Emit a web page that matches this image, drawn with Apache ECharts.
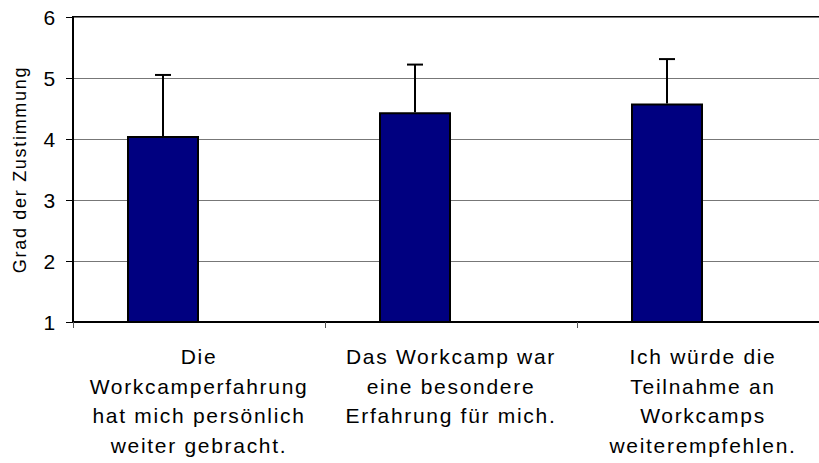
<!DOCTYPE html>
<html>
<head>
<meta charset="utf-8">
<script src="https://cdn.jsdelivr.net/npm/echarts@6/dist/echarts.min.js"></script>
<style>
  html, body { margin: 0; padding: 0; background: #fff; }
  #main { width: 819px; height: 463px; }
  /* Excel renders the text a bit spread out */
  #main svg text { letter-spacing: 1.7px; }
</style>
</head>
<body>
<div id="main"></div>
<script>
// Daten
var categories = [
  'Die\nWorkcamperfahrung\nhat mich persönlich\nweiter gebracht.',
  'Das Workcamp war\neine besondere\nErfahrung für mich.',
  'Ich würde die\nTeilnahme an\nWorkcamps\nweiterempfehlen.'
]
var means = [4.05, 4.44, 4.58]
var sds = [1.00, 0.78, 0.73]
var yMin = 1, yMax = 6, yStep = 1
var yName = 'Grad der Zustimmung'

var barW = 72
var font = "'Liberation Sans', Arial, sans-serif"

var myChart = echarts.init(document.getElementById('main'), null, { renderer: 'svg' })

var option = {
  backgroundColor: '#fff',
  animation: false,
  grid: {
    left: 73,
    top: 17,
    bottom: 141,
    right: -10,
    outerBoundsMode: 'none',
    show: true,
    borderColor: '#000',
    borderWidth: 2
  },
  xAxis: {
    type: 'category',
    data: categories,
    axisLine: { lineStyle: { color: '#000', width: 2 } },
    axisTick: { show: true, length: 6, lineStyle: { color: '#555', width: 1 } },
    axisLabel: {
      interval: 0,
      color: '#000',
      fontFamily: font,
      fontSize: 21,
      lineHeight: 29.5,
      margin: 20
    }
  },
  yAxis: {
    type: 'value',
    min: yMin,
    max: yMax,
    interval: yStep,
    name: yName,
    nameLocation: 'middle',
    nameGap: 44,
    nameTextStyle: { color: '#000', fontFamily: font, fontSize: 18 },
    axisLine: { show: true, lineStyle: { color: '#000', width: 2 } },
    axisTick: { show: true, length: 7, lineStyle: { color: '#000', width: 1 } },
    axisLabel: { color: '#000', fontFamily: font, fontSize: 21, margin: 16 },
    splitLine: { lineStyle: { color: '#777', width: 1 } }
  },
  series: [
    {
      name: 'Mittelwert',
      type: 'bar',
      data: means,
      barWidth: barW,
      barGap: '0%',
      itemStyle: { color: '#000080', borderColor: '#000', borderWidth: 2 }
    },
    {
      // leere zweite Reihe (Platzhalter wie im Original)
      name: 'leer',
      type: 'bar',
      data: means.map(function () { return null }),
      barWidth: barW,
      barGap: '0%'
    },
    {
      name: 'SD',
      type: 'custom',
      z: 5,
      data: means.map(function (m, i) { return [i, m, m + sds[i]] }),
      renderItem: function (params, api) {
        var base = api.coord([api.value(0), api.value(1)])
        var top = api.coord([api.value(0), api.value(2)])
        var x = base[0] - barW / 2
        var style = { stroke: '#000', lineWidth: 2 }
        return {
          type: 'group',
          children: [
            { type: 'line', shape: { x1: x, y1: base[1], x2: x, y2: top[1] }, style: style },
            { type: 'line', shape: { x1: x - 8, y1: top[1], x2: x + 8, y2: top[1] }, style: style }
          ]
        }
      }
    }
  ]
}

myChart.setOption(option)
</script>
</body>
</html>
